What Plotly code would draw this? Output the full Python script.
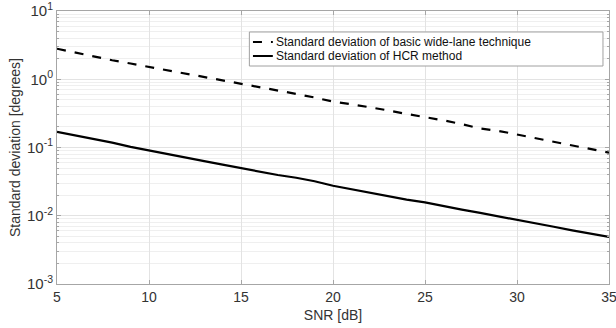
import plotly.graph_objects as go

snr = list(range(5, 36))
std_wide_lane = [2.80, 2.45, 2.15, 1.90, 1.70, 1.52, 1.36, 1.22, 1.08, 0.96, 0.85,
                 0.76, 0.68, 0.61, 0.54, 0.47, 0.43, 0.39, 0.35, 0.31, 0.28,
                 0.25, 0.22, 0.19, 0.175, 0.155, 0.135, 0.12, 0.105, 0.094, 0.084]
std_hcr = [0.169, 0.150, 0.135, 0.118, 0.102, 0.090, 0.080, 0.071, 0.063, 0.056, 0.050,
           0.044, 0.0395, 0.036, 0.032, 0.0275, 0.0245, 0.0215, 0.019, 0.0172, 0.0157,
           0.0138, 0.0123, 0.0110, 0.0098, 0.0087, 0.0079, 0.0069, 0.0061, 0.0055, 0.0049]
legend_names = ["Standard deviation of basic wide-lane technique",
                "Standard deviation of HCR method"]
x_ticks = [5, 10, 15, 20, 25, 30, 35]
y_ticks = [1e-3, 1e-2, 1e-1, 1e0, 1e1]
y_tick_text = ["10<sup>-3</sup>", "10<sup>-2</sup>", "10<sup>-1</sup>", "10<sup>0</sup>", "10<sup>1</sup>"]
minor_vals = [m * d for d in [1e-3, 1e-2, 1e-1, 1e0] for m in range(2, 10)]

fig = go.Figure()
fig.add_trace(go.Scatter(x=snr, y=std_wide_lane, mode="lines", name=legend_names[0],
                         line=dict(color="black", width=2.2, dash="dash"), showlegend=False))
fig.add_trace(go.Scatter(x=snr, y=std_hcr, mode="lines", name=legend_names[1],
                         line=dict(color="black", width=2.2), showlegend=False))

# legend drawn as box + sample lines + text (paper coordinates)
bx0, bx1, by0, by1 = 0.3485, 0.9891, 0.7985, 0.9231
rows_y = [0.8864, 0.8352]
dashes = ["dash", "solid"]
shapes = [dict(type="rect", xref="paper", yref="paper", x0=bx0, x1=bx1, y0=by0, y1=by1,
               line=dict(color="#a0a0a0", width=1), fillcolor="white", layer="above")]
annotations = []
for name, ry, dsh in zip(legend_names, rows_y, dashes):
    shapes.append(dict(type="line", xref="paper", yref="paper", x0=0.355, x1=0.391,
                       y0=ry, y1=ry, line=dict(color="black", width=2, dash=dsh), layer="above"))
    annotations.append(dict(xref="paper", yref="paper", x=0.393, y=ry, xanchor="left",
                            yanchor="middle", text=name, showarrow=False,
                            font=dict(size=12, color="#111111")))

axis_col = "#a6a6a6"
grid_col = "#e3e3e3"
fig.update_layout(
    width=616, height=328,
    margin=dict(l=57, r=7, t=11, b=44, autoexpand=False),
    paper_bgcolor="white", plot_bgcolor="white",
    font=dict(family="Liberation Sans, Arial, sans-serif", color="#333333", size=13),
    showlegend=False,
    shapes=shapes, annotations=annotations,
    xaxis=dict(range=[5, 35], tickvals=x_ticks, showgrid=True, gridcolor=grid_col,
               showline=True, linecolor=axis_col, mirror="ticks", ticks="inside",
               ticklen=4, tickcolor=axis_col, zeroline=False, automargin=False,
               ticklabeloverflow="allow",
               title=dict(text="SNR [dB]", standoff=6, font=dict(size=14)),
               tickfont=dict(size=14)),
    yaxis=dict(type="log", range=[-3, 1], tickvals=y_ticks, ticktext=y_tick_text,
               showgrid=True, gridcolor=grid_col,
               showline=True, linecolor=axis_col, mirror="ticks", ticks="inside",
               ticklen=4, tickcolor=axis_col, zeroline=False, automargin=False,
               ticklabeloverflow="allow",
               minor=dict(tickvals=minor_vals, showgrid=True, gridcolor="#efefef",
                          ticks="inside", ticklen=2, tickcolor=axis_col),
               title=dict(text="Standard deviation [degrees]", standoff=3, font=dict(size=14)),
               tickfont=dict(size=15)),
)

fig.write_html("out.html")
